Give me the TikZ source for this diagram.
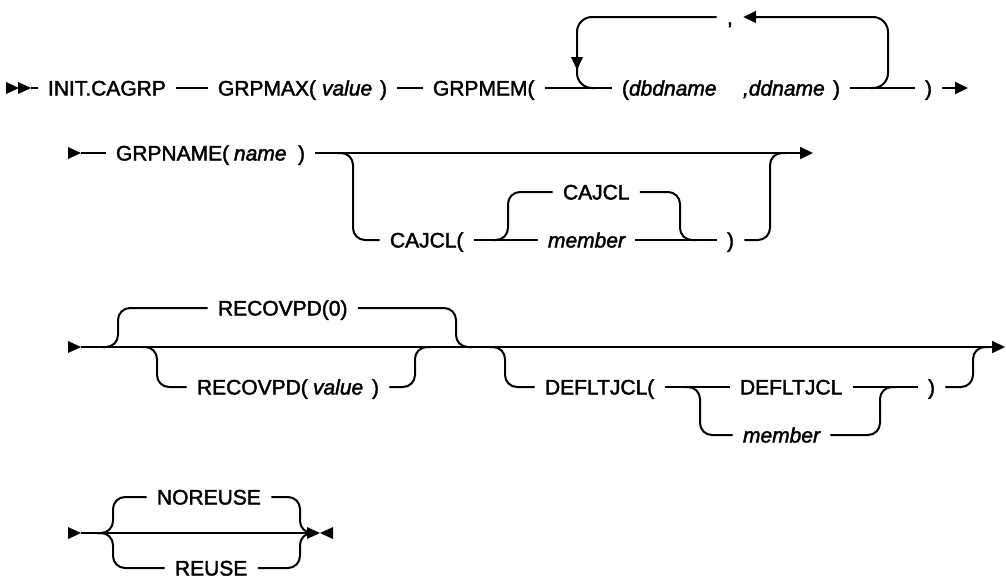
\documentclass[tikz,border=0pt]{standalone}
\usepackage{fontspec}
\newfontfamily\railfont{Liberation Sans}[FakeBold=2]
\usetikzlibrary{arrows.meta}
\tikzset{
  >={Triangle[length=6.5pt,width=6pt]},
  rail/.style={line width=1pt, rounded corners=6pt},
  kw/.style={font=\railfont\fontsize{10.5pt}{12pt}\selectfont, inner xsep=5pt, inner ysep=0pt,
    text height=7.5pt, text depth=0pt, anchor=text, yshift=-3.75pt},
  var/.style={kw, font=\railfont\fontsize{10.5pt}{12pt}\selectfont\itshape},
  railtip/.pic={\fill (0,0) -- (-13,-6) -- (-13,6) -- cycle;}
}
\begin{document}
\begin{tikzpicture}[x=0.5pt,y=-0.5pt]
\useasboundingbox (0,0) rectangle (1006,579);

% line 1
\coordinate (r1s) at (31,88);
\coordinate (r1e) at (968,88);
\coordinate (lpa) at (577,88);
\coordinate (lpb) at (888,88);
\node[kw] (initcagrp) at (48,88) {INIT.CAGRP};
\node[kw] (grpmax) at (218,88) {GRPMAX(};
\node[var] (grpmaxval) at (322,88) {value};
\node[kw] (grpmaxcl) at (380,88) {)};
\node[kw] (grpmem) at (433,88) {GRPMEM(};
\node[kw] (dbdname) at (622,88) {(\textit{dbdname}};
\node[var] (ddname) at (743,88) {,ddname};
\node[kw] (dbdcl) at (833,88) {)};
\node[kw] (comma) at (727,17) {,};
\node[kw] (endcl) at (925,88) {)};
\pic at (19,88) {railtip};
\pic at (r1s) {railtip};
\draw[rail] (r1s) -- (initcagrp.west);
\draw[rail] (initcagrp.east) -- (grpmax.west);
\draw[rail] (grpmaxcl.east) -- (grpmem.west);
\draw[rail] (grpmem.east) -- (dbdname.west);
\draw[rail] (dbdcl.east) -- (endcl.west);
\draw[rail,->] (endcl.east) -- (r1e);
% repeat loop
\draw[rail,rounded corners=7.5pt,->] ([xshift=-9pt]lpb) -- (lpb) |- (comma.east);
\draw[rail,rounded corners=7.5pt] (comma.west) -| (lpa) -- ([xshift=9pt]lpa);
\pic[rotate=-90] at ([yshift=9pt]lpa) {railtip};

% line 2
\coordinate (r2s) at (81,153);
\coordinate (r2e) at (813,153);
\coordinate (jc1) at (353,153);
\coordinate (jc2) at (508,240);
\coordinate (jc3) at (680,240);
\coordinate (jc4) at (770,153);
\node[kw] (grpname) at (116,153) {GRPNAME(};
\node[var] (grpnameval) at (234,153) {name};
\node[kw] (grpnamecl) at (298,153) {)};
\node[kw] (cajcl) at (390,240) {CAJCL(};
\node[kw] (cajcldef) at (563,192) {CAJCL};
\node[var] (cajclmem) at (548,240) {member};
\node[kw] (cajclcl) at (727,240) {)};
\pic at (r2s) {railtip};
\draw[rail] (r2s) -- (grpname.west);
\draw[rail,->] (grpnamecl.east) -- (r2e);
\draw[rail] ([xshift=-8pt]jc1) -- (jc1) |- (cajcl.west);
\draw[rail] (cajcl.east) -- (cajclmem.west);
\draw[rail] ([xshift=-8pt]jc2) -- (jc2) |- (cajcldef.west);
\draw[rail] (cajcldef.east) -| (jc3) -- ([xshift=8pt]jc3);
\draw[rail] (cajclmem.east) -- (cajclcl.west);
\draw[rail] (cajclcl.east) -| (jc4) -- ([xshift=8pt]jc4);

% line 3
\coordinate (r3s) at (81,347);
\coordinate (r3e) at (1005,347);
\coordinate (ja1) at (118,347);
\coordinate (ja2) at (456,347);
\coordinate (ja3) at (157,347);
\coordinate (ja4) at (415,347);
\coordinate (ja5) at (505,347);
\coordinate (ja6) at (700,387);
\coordinate (ja7) at (880,387);
\coordinate (ja8) at (973,347);
\node[kw] (recovzero) at (218,308) {RECOVPD(0)};
\node[kw] (recovpd) at (197,387) {RECOVPD(};
\node[var] (recovval) at (313,387) {value};
\node[kw] (recovcl) at (372,387) {)};
\node[kw] (deflt) at (545,387) {DEFLTJCL(};
\node[kw] (defltdef) at (740,387) {DEFLTJCL};
\node[var] (defltmem) at (743,435) {member};
\node[kw] (defltcl) at (928,387) {)};
\pic at (r3s) {railtip};
\draw[rail,->] (r3s) -- (r3e);
\draw[rail] ([xshift=-8pt]ja1) -- (ja1) |- (recovzero.west);
\draw[rail] (recovzero.east) -| (ja2) -- ([xshift=8pt]ja2);
\draw[rail] ([xshift=-8pt]ja3) -- (ja3) |- (recovpd.west);
\draw[rail] (recovcl.east) -| (ja4) -- ([xshift=8pt]ja4);
\draw[rail] ([xshift=-8pt]ja5) -- (ja5) |- (deflt.west);
\draw[rail] (deflt.east) -- (defltdef.west);
\draw[rail] ([xshift=-8pt]ja6) -- (ja6) |- (defltmem.west);
\draw[rail] (defltmem.east) -| (ja7) -- ([xshift=8pt]ja7);
\draw[rail] (defltdef.east) -- (defltcl.west);
\draw[rail] (defltcl.east) -| (ja8) -- ([xshift=8pt]ja8);

% line 4
\coordinate (r4s) at (81,533);
\coordinate (r4e) at (308,533);
\coordinate (jn1) at (113,533);
\coordinate (jn2) at (300,533);
\node[kw] (noreuse) at (157,497) {NOREUSE};
\node[kw] (reuse) at (175,568) {REUSE};
\pic at (r4s) {railtip};
\draw[rail] (r4s) -- (r4e);
\draw[rail] ([xshift=-8pt]jn1) -- (jn1) |- (noreuse.west);
\draw[rail] ([xshift=-8pt]jn1) -- (jn1) |- (reuse.west);
\draw[rail] (noreuse.east) -| (jn2) -- ([xshift=5pt]jn2);
\draw[rail] (reuse.east) -| (jn2) -- ([xshift=5pt]jn2);
\pic at (320,533) {railtip};
\pic[rotate=180] at (320,533) {railtip};
\end{tikzpicture}
\end{document}
